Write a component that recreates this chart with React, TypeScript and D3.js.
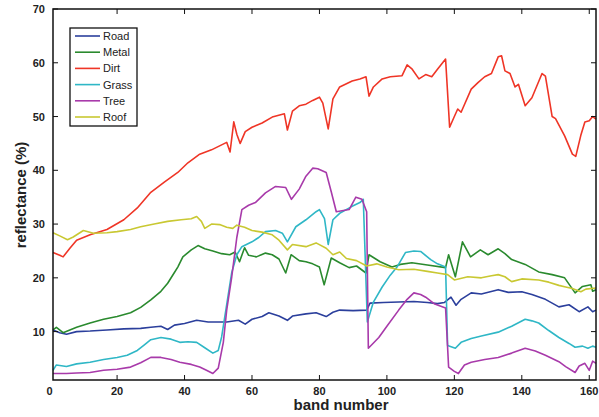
import React, { useEffect, useRef } from 'react'
import * as d3 from 'd3'

// band number vs reflectance (%)
const road = [[1,10.3],[3,9.8],[5,9.5],[8,10.0],[12,10.1],[17,10.3],[22,10.5],[27,10.6],[30,10.8],[33,11.0],[35,10.4],[37,11.2],[40,11.5],[43.6,12.1],[47,11.8],[52.5,11.8],[56,12.1],[58,11.4],[60,12.3],[63,12.8],[65,13.5],[68,12.9],[70.5,12.1],[72,12.9],[76,13.3],[79,13.5],[82,12.8],[84,13.6],[86,14.0],[90,13.9],[94,14.0],[95,15.3],[99,15.4],[103.5,15.5],[108,15.6],[112,15.4],[115,15.2],[117,15.4],[119,16.4],[120.5,14.9],[122,16.0],[125,17.2],[128,17.0],[133,17.8],[136,17.3],[140,17.4],[143,16.9],[147,16.0],[151,14.6],[154,15.0],[157,13.7],[159.6,14.6],[161,13.7],[162,14.0]]

const metal = [[1,10.3],[2,10.8],[4,9.8],[8,10.8],[12,11.6],[16,12.3],[20,12.8],[24,13.5],[27,14.5],[30,15.9],[33,17.5],[35,19.0],[37,21.0],[38,22.0],[39.5,23.9],[42,25.2],[44,26.0],[46,25.4],[48.4,25.0],[51,24.5],[53.4,24.3],[55,24.8],[56.3,23.0],[57.8,25.6],[59,24.2],[61.3,23.9],[64,24.6],[66,24.3],[68,23.5],[70,20.9],[71.6,24.3],[74,23.2],[76,23.0],[78,22.6],[80,22.0],[81.4,18.7],[83.5,23.7],[86,22.8],[88.8,21.9],[91,22.2],[93.8,20.9],[94.7,24.3],[98,23.0],[101.5,22.0],[104,22.5],[107.4,22.8],[112,22.4],[117.4,21.9],[118.3,24.3],[120.3,20.2],[122.4,26.7],[124.8,23.9],[127.7,25.2],[130,24.3],[133,25.4],[135,24.5],[137,23.4],[141,22.5],[145,21.1],[149,20.6],[152.7,20.0],[155.8,17.2],[158,18.4],[160.5,18.7],[161,17.5],[162,17.8]]

const dirt = [[1,24.7],[3,24.2],[4,23.9],[6,25.5],[8,27.0],[12,28.0],[17,29.0],[22,30.8],[26,33.0],[30,35.9],[34,37.8],[38,39.6],[41,41.4],[44.5,43.0],[48,43.8],[52.5,45.2],[53.5,43.4],[54.6,49.0],[55.5,46.7],[56.5,45.0],[58,47.2],[60,48.0],[63,48.8],[66,49.9],[69.6,50.5],[70.5,47.5],[72,51.0],[74,52.0],[76,52.3],[78,53.0],[80,53.6],[81,52.5],[82.6,47.7],[84,53.3],[86,55.5],[89.7,56.6],[92,57.0],[93.8,57.4],[94.7,53.8],[96,55.5],[98.6,57.0],[101,57.4],[104.5,57.6],[106,59.6],[107.5,58.8],[109.5,57.0],[111.5,57.8],[113.3,57.4],[115,58.8],[117.4,60.7],[118.6,48.0],[120,50.0],[121,51.4],[122,50.8],[125,55.1],[127,56.3],[129,57.4],[131,58.0],[133,61.1],[134,61.3],[135,58.5],[136.5,58.0],[138,55.5],[139,56.0],[141,52.0],[143,53.5],[146,58.0],[147,57.5],[149,50.0],[150,49.6],[152.7,46.4],[155,43.0],[156,42.6],[157.5,46.5],[158.7,49.0],[160,49.2],[161,50.0],[162,49.5]]

const grass = [[1,2.8],[2,3.8],[3,3.7],[5,3.5],[8,4.0],[12,4.3],[16,4.8],[20,5.2],[23,5.6],[26,6.5],[28,7.5],[30,8.5],[33,8.9],[36,8.6],[38.6,8.0],[41,8.1],[43.6,8.0],[46,7.0],[48.4,6.0],[50,6.5],[51,9.0],[52.5,15.0],[54,21.0],[55.5,24.3],[57,25.8],[60,26.7],[62,27.5],[64,28.6],[67,28.8],[69,28.3],[70.5,26.7],[73,29.5],[76,30.8],[79,32.3],[80,32.7],[81.5,31.0],[82.6,26.2],[84,30.8],[86,32.0],[89.7,33.3],[92,34.0],[93,34.6],[94.2,11.8],[96,15.5],[98.6,18.3],[101,20.5],[103,22.0],[105.5,24.7],[108,25.0],[110,24.9],[113,23.4],[115,22.6],[117.4,22.0],[118,7.4],[120.3,6.9],[122,8.0],[125,8.7],[128,9.2],[133,9.9],[137,11.0],[141,12.3],[143,12.0],[145,11.6],[148,10.2],[151,8.9],[154,7.8],[155.8,7.1],[158,7.3],[159.6,6.9],[161,7.3],[162,7.1]]

const tree = [[1,2.2],[5,2.2],[8,2.3],[12,2.4],[16,2.8],[20,3.0],[24,3.4],[27,4.2],[30,5.2],[33,5.2],[36,4.8],[38.6,4.3],[42,3.9],[44.5,3.4],[46.5,2.8],[48.4,2.2],[50,3.2],[51.5,8.0],[52.5,14.0],[54,20.2],[55.5,27.5],[57,32.7],[59,33.5],[61,34.0],[64,35.8],[67,37.0],[70,36.8],[71.7,34.6],[74,36.5],[76,38.9],[78,40.4],[79.5,40.3],[82,39.6],[83.5,36.0],[85,32.3],[88.8,32.7],[90.8,35.0],[92.6,34.6],[94,32.3],[94.5,6.9],[97.6,8.9],[100,11.0],[103.5,14.0],[106,16.0],[108,17.2],[110,16.9],[111.5,16.4],[114,15.2],[117.4,14.4],[118.3,3.4],[120,2.6],[121.2,2.2],[123,3.8],[125,4.3],[129,4.8],[133,5.2],[137,6.0],[141,6.9],[144,6.4],[147,5.6],[151,4.4],[153,3.5],[155.8,2.4],[157,3.6],[158.7,4.1],[160,2.8],[161,4.5],[162,4.1]]

const roof = [[1,28.4],[3,27.8],[5.3,27.1],[7,27.6],[10,28.8],[13,28.3],[17,28.4],[20,28.6],[24,29.0],[27,29.5],[31,30.0],[35,30.5],[39,30.8],[42,31.0],[43.6,31.4],[45,30.5],[46,29.2],[48,30.0],[50.4,29.9],[52.5,29.4],[54.3,29.2],[55.5,29.8],[57.8,29.4],[60,28.8],[63,28.5],[66,28.0],[68,27.0],[70.5,25.2],[72,26.2],[76,25.8],[79,26.5],[82,25.5],[84,24.3],[86,24.8],[88,23.6],[91,23.2],[94,22.2],[97,22.6],[100,22.0],[103.5,21.5],[108,21.6],[112,21.2],[115,20.9],[118,20.6],[120,19.6],[124,20.2],[128,20.0],[131,20.4],[133,20.6],[135,20.2],[137,19.3],[140,19.8],[145,19.6],[148,19.2],[151,18.6],[153,18.3],[155,18.0],[157.5,17.4],[159,17.9],[162,18.1]]

const names = ['Road', 'Metal', 'Dirt', 'Grass', 'Tree', 'Roof']
const colors = ['#2b3f9c', '#2a8a2e', '#ef3526', '#2fb7c6', '#a83aaa', '#c9c832']
const seriesData = [road, metal, dirt, grass, tree, roof]
const xTicks = [0, 20, 40, 60, 80, 100, 120, 140, 160]
const yTicks = [10, 20, 30, 40, 50, 60, 70]

export default function App() {
  const ref = useRef(null)

  useEffect(() => {
    const svg = d3.select(ref.current)
    svg.selectAll('*').remove()

    const left = 53, right = 596, top = 9, bottom = 380
    const x = d3.scaleLinear().domain([1, 162]).range([left, right])
    const y = d3.scaleLinear().domain([1, 70]).range([bottom, top])
    const font = 'Liberation Sans, Arial, sans-serif'

    const line = d3.line().x(d => x(d[0])).y(d => y(d[1]))

    seriesData.forEach((s, i) => {
      svg.append('path')
        .datum(s)
        .attr('fill', 'none')
        .attr('stroke', colors[i])
        .attr('stroke-width', 1.6)
        .attr('stroke-linejoin', 'round')
        .attr('d', line)
    })

    // box + inward ticks on all four sides
    svg.append('rect')
      .attr('x', left).attr('y', top)
      .attr('width', right - left).attr('height', bottom - top)
      .attr('fill', 'none').attr('stroke', '#111').attr('stroke-width', 1.5)

    xTicks.forEach(t => {
      const px = x(t)
      if (t >= 1) {
        svg.append('line').attr('x1', px).attr('x2', px).attr('y1', bottom).attr('y2', bottom - 5).attr('stroke', '#111')
        svg.append('line').attr('x1', px).attr('x2', px).attr('y1', top).attr('y2', top + 5).attr('stroke', '#111')
      }
      svg.append('text')
        .attr('x', px).attr('y', bottom + 15)
        .attr('text-anchor', 'middle')
        .style('font', `bold 11px ${font}`).attr('fill', '#222')
        .text(t)
    })

    yTicks.forEach(t => {
      const py = y(t)
      svg.append('line').attr('x1', left).attr('x2', left + 5).attr('y1', py).attr('y2', py).attr('stroke', '#111')
      svg.append('line').attr('x1', right).attr('x2', right - 5).attr('y1', py).attr('y2', py).attr('stroke', '#111')
      svg.append('text')
        .attr('x', 45).attr('y', py + 4)
        .attr('text-anchor', 'end')
        .style('font', `bold 11px ${font}`).attr('fill', '#222')
        .text(t)
    })

    svg.append('text')
      .attr('x', 341).attr('y', 410)
      .attr('text-anchor', 'middle')
      .style('font', `bold 15px ${font}`).attr('fill', '#222')
      .text('band number')

    svg.append('text')
      .attr('transform', 'translate(26,195) rotate(-90)')
      .attr('text-anchor', 'middle')
      .style('font', `bold 15px ${font}`).attr('fill', '#222')
      .text('reflectance (%)')

    // legend
    const lg = svg.append('g')
    lg.append('rect')
      .attr('x', 70).attr('y', 28).attr('width', 67).attr('height', 98)
      .attr('fill', '#fff').attr('stroke', '#111').attr('stroke-width', 1.3)
    names.forEach((n, i) => {
      const ly = 36 + i * 16.2
      lg.append('line').attr('x1', 75).attr('x2', 100).attr('y1', ly).attr('y2', ly)
        .attr('stroke', colors[i]).attr('stroke-width', 1.6)
      lg.append('text')
        .attr('x', 103).attr('y', ly + 4)
        .style('font', `11px ${font}`).attr('fill', '#222')
        .text(n)
    })
  }, [])

  return (
    <svg ref={ref} width={599} height={417}
      style={{ position: 'fixed', left: 0, top: 0, background: '#fff' }} />
  )
}
